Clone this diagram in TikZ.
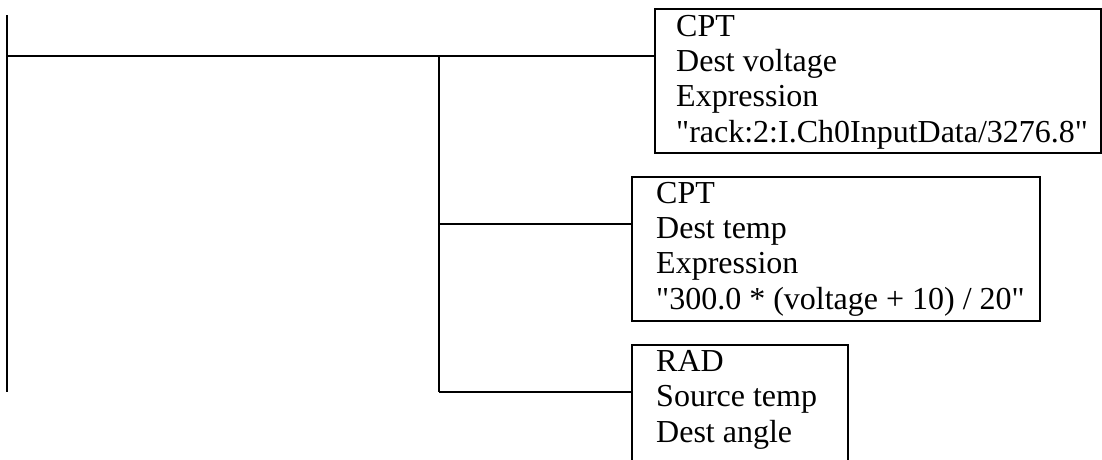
\documentclass[tikz,border=0pt]{standalone}
\usepackage{fontspec}
\setmainfont{Liberation Serif}
\begin{document}
\begin{tikzpicture}[x=1pt,y=-1pt,line width=2.4pt,
  boxst/.style={draw,line width=2.4pt,rectangle,inner sep=0pt,anchor=north west},
  txt/.style={font=\fontsize{32}{35.3}\selectfont,align=left,anchor=base west,inner sep=0pt},
  link/.style={draw,line width=2.4pt}]
\useasboundingbox (0,0) rectangle (1102,459);
\clip (0,0) rectangle (1102,459);
% boxes
\node[boxst,minimum width=446pt,minimum height=144pt] (b1) at (654,8) {};
\node[boxst,minimum width=408pt,minimum height=144pt] (b2) at (631,176) {};
\node[boxst,minimum width=216pt,minimum height=140pt] (b3) at (631,344) {};
% texts (anchored at the baseline of their last line)
\node[txt] (t1) at (675,142) {CPT\\Dest voltage\\Expression\\\textquotedbl rack:2:I.Ch0InputData/3276.8\textquotedbl};
\node[txt] (t2) at (655,309) {CPT\\Dest temp\\Expression\\\textquotedbl 300.0 * (voltage + 10) / 20\textquotedbl};
\node[txt] (t3) at (655,442) {RAD\\Source temp\\Dest angle};
% connectors
\coordinate (top) at (7,15);
\coordinate (bot) at (7,392);
\coordinate (j0) at (7,56);
\coordinate (j1) at (439,56);
\coordinate (j2) at (439,224);
\coordinate (j3) at (439,392);
\draw[link] (top) -- (bot);
\draw[link] (j0) -- (b1.west |- j0);
\draw[link] (j1) -- (j3);
\draw[link] (j2) -- (b2.west |- j2);
\draw[link] (j3) -- (b3.west |- j3);
\end{tikzpicture}
\end{document}
